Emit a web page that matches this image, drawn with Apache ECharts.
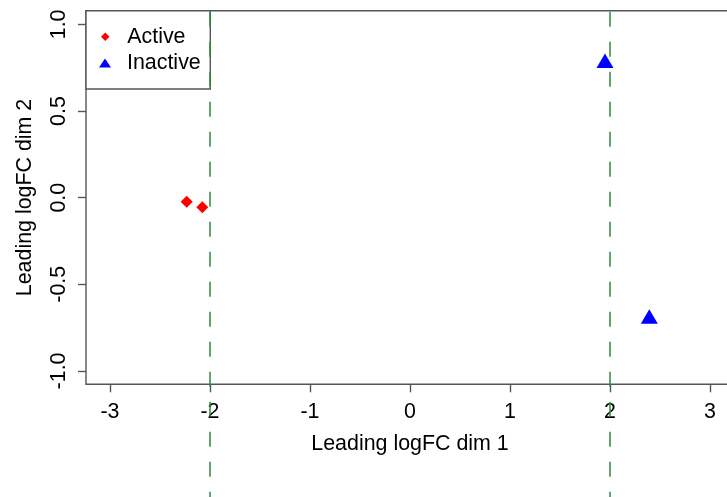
<!DOCTYPE html>
<html><head><meta charset="utf-8">
<script src="https://cdn.jsdelivr.net/npm/echarts@6/dist/echarts.min.js"></script>
<style>html,body{margin:0;padding:0;background:#fff}#c{width:727px;height:497px}</style>
</head><body><div id="c"></div>
<script>
// ---- data ----
const groups = ['Active', 'Inactive'];
const activeX = [-2.233, -2.077];
const activeY = [-0.023, -0.055];
const inactiveX = [1.95, 2.393];
const inactiveY = [0.776, -0.70];
const xTicks = [-3, -2, -1, 0, 1, 2, 3];
const yTicks = [-1.0, -0.5, 0.0, 0.5, 1.0];
const cutoffs = [-2, 2];
const xRange = [-3.24, 3.24];
const yRange = [-1.077, 1.079];

// ---- chart ----
const FONT = "'Liberation Sans', Arial, Helvetica, sans-serif";
const txt = {fontFamily: FONT, fontSize: 21.4, color: '#000', lineHeight: 21};
const AX = '#555';
const chart = echarts.init(document.getElementById('c'), null, {renderer: 'canvas'});
const option = {
  animation: false,
  textStyle: {fontFamily: FONT},
  grid: [
    {left: 86, top: 10.7, width: 648, height: 373.6, show: true, borderColor: AX, borderWidth: 1.4,
     backgroundColor: 'transparent', outerBoundsMode: 'none', containLabel: false},
    {left: 86, top: 10.7, width: 648, height: 486.3, show: false, outerBoundsMode: 'none', containLabel: false}
  ],
  xAxis: [
    {type: 'value', gridIndex: 0, min: xRange[0], max: xRange[1],
     splitLine: {show: false}, axisLine: {show: false, onZero: false},
     axisTick: {show: true, length: 8, customValues: xTicks, lineStyle: {color: AX, width: 1.4}},
     axisLabel: Object.assign({customValues: xTicks, margin: 17.5, formatter: v => String(v)}, txt),
     name: 'Leading logFC dim 1', nameLocation: 'middle', nameGap: 49.4,
     nameTextStyle: Object.assign({}, txt)},
    {type: 'value', gridIndex: 1, min: xRange[0], max: xRange[1], show: false}
  ],
  yAxis: [
    {type: 'value', gridIndex: 0, min: yRange[0], max: yRange[1],
     splitLine: {show: false}, axisLine: {show: false, onZero: false},
     axisTick: {show: true, length: 8, customValues: yTicks, lineStyle: {color: AX, width: 1.4}},
     axisLabel: Object.assign({customValues: yTicks, margin: 16, rotate: 90, formatter: v => v.toFixed(1)}, txt),
     name: 'Leading logFC dim 2', nameLocation: 'middle', nameGap: 50.5,
     nameTextStyle: Object.assign({}, txt)},
    {type: 'value', gridIndex: 1, min: 0, max: 1, show: false}
  ],
  legend: [
    {data: [{name: groups[0], icon: 'path://M0,-1L1,0L0,1L-1,0Z', itemStyle: {color: '#ff0000', opacity: 1}}],
     left: 101, top: 26.3, padding: 0,
     itemWidth: 34, itemHeight: 8.5, textStyle: Object.assign({}, txt), selectedMode: false, orient: 'vertical'},
    {data: [{name: groups[1], icon: 'path://M0,-9L6,0L-6,0Z', itemStyle: {color: '#0000ff', opacity: 1}}],
     left: 99, top: 52.5, padding: 0,
     itemWidth: 34, itemHeight: 9, textStyle: Object.assign({}, txt), selectedMode: false, orient: 'vertical'}
  ],
  graphic: [
    {type: 'rect', z: 3, shape: {x: 86, y: 10.7, width: 124.3, height: 78.3},
     style: {fill: '#fff', stroke: AX, lineWidth: 1.4}, silent: true}
  ],
  series: [
    {name: groups[0], type: 'scatter', xAxisIndex: 0, yAxisIndex: 0, symbol: 'diamond', symbolSize: 12,
     itemStyle: {color: '#ff0000', opacity: 1}, data: activeX.map((x, i) => [x, activeY[i]]), z: 3},
    {name: groups[1], type: 'scatter', xAxisIndex: 0, yAxisIndex: 0, symbol: 'triangle', symbolSize: [17, 14.7],
     symbolOffset: [0, -2.45], itemStyle: {color: '#0000ff', opacity: 1}, data: inactiveX.map((x, i) => [x, inactiveY[i]]), z: 3},
    {type: 'line', xAxisIndex: 1, yAxisIndex: 1, data: [], z: 10, silent: true,
     markLine: {silent: true, symbol: ['none', 'none'], label: {show: false}, animation: false,
       lineStyle: {color: '#2e8b3e', width: 1.5, type: [15, 15], dashOffset: 9.7},
       emphasis: {disabled: true},
       data: cutoffs.map(c => ({xAxis: c}))}}
  ]
};
chart.setOption(option);
</script>
</body></html>
